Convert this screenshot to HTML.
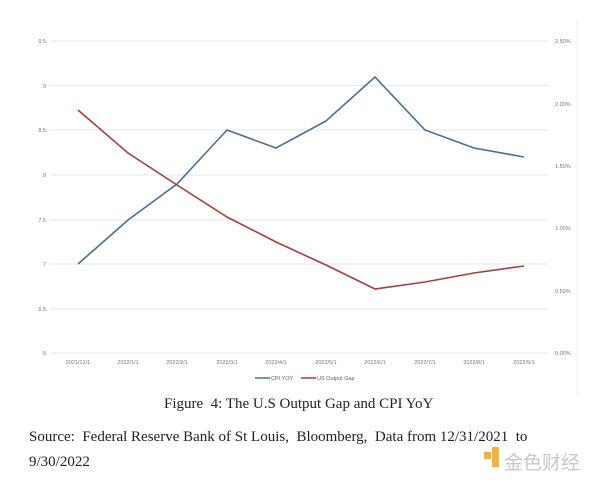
<!DOCTYPE html>
<html><head><meta charset="utf-8"><style>
body{margin:0;width:600px;height:482px;background:#fff;overflow:hidden;position:relative;font-family:"Liberation Serif",serif}
.t{position:absolute;white-space:nowrap}
</style></head><body>
<svg width="600" height="400" style="position:absolute;left:0;top:0" font-family="Liberation Sans, sans-serif">
<g stroke="#e6e6e6" stroke-width="1">
<line x1="50" x2="548" y1="41" y2="41"/><line x1="50" x2="548" y1="85.6" y2="85.6"/>
<line x1="50" x2="548" y1="130" y2="130"/><line x1="50" x2="548" y1="175" y2="175"/>
<line x1="50" x2="548" y1="220" y2="220"/><line x1="50" x2="548" y1="264" y2="264"/>
<line x1="50" x2="548" y1="309" y2="309"/><line x1="50" x2="548" y1="353" y2="353"/>
</g>
<line x1="577" x2="577" y1="20" y2="395" stroke="#eee"/>
<g font-size="5.5" fill="#777" text-anchor="end">
<text x="46" y="43">9.5</text><text x="46" y="88">9</text><text x="46" y="132">8.5</text><text x="46" y="177">8</text>
<text x="46" y="222">7.5</text><text x="46" y="266">7</text><text x="46" y="311">6.5</text><text x="46" y="355">6</text>
</g>
<g font-size="5.5" fill="#777">
<text x="555" y="43">2.50%</text><text x="555" y="106">2.00%</text><text x="555" y="168">1.50%</text>
<text x="555" y="230">1.00%</text><text x="555" y="293">0.50%</text><text x="555" y="355">0.00%</text>
</g>
<g font-size="5.5" fill="#777" text-anchor="middle">
<text x="78" y="364">2021/12/1</text><text x="128" y="364">2022/1/1</text><text x="177" y="364">2022/2/1</text>
<text x="227" y="364">2022/3/1</text><text x="276" y="364">2022/4/1</text><text x="326" y="364">2022/5/1</text>
<text x="375" y="364">2022/6/1</text><text x="425" y="364">2022/7/1</text><text x="474" y="364">2022/8/1</text><text x="524" y="364">2022/9/1</text>
</g>
<polyline fill="none" stroke="#4a6d94" stroke-width="1.6" points="78,264 128,220 177,184 227,130 276,148 326,121 375,77 425,130 474,148 524,157"/>
<polyline fill="none" stroke="#a83d3d" stroke-width="1.6" points="78,110 128,153 177,185 227,217 276,242 326,265 375,289 425,282 474,273 524,266"/>
<line x1="255" x2="270" y1="378" y2="378" stroke="#4a6d94" stroke-width="1.5"/>
<text x="271" y="380" font-size="5.5" fill="#666">CPI YOY</text>
<line x1="301" x2="316" y1="378" y2="378" stroke="#a83d3d" stroke-width="1.5"/>
<text x="317" y="380" font-size="5.5" fill="#666">US Output Gap</text>
</svg>
<div class="t" style="left:164px;top:396px;font-size:15px;color:#222">Figure&nbsp; 4: The U.S Output Gap and CPI YoY</div>
<div class="t" style="left:29px;top:429px;font-size:15px;color:#222">Source:&nbsp; Federal Reserve Bank of St Louis,&nbsp; Bloomberg,&nbsp; Data from 12/31/2021&nbsp; to</div>
<div class="t" style="left:29px;top:454px;font-size:15px;color:#222">9/30/2022</div>
<div style="position:absolute;left:484px;top:452px;width:7px;height:7px;background:#f0b43c"></div>
<div style="position:absolute;left:492px;top:447px;width:7px;height:20px;background:#f0b43c"></div>
<div class="t" style="left:504px;top:448px;font-size:19px;color:#c8c8c8;font-family:'Noto Sans CJK SC',sans-serif">金色财经</div>
</body></html>
